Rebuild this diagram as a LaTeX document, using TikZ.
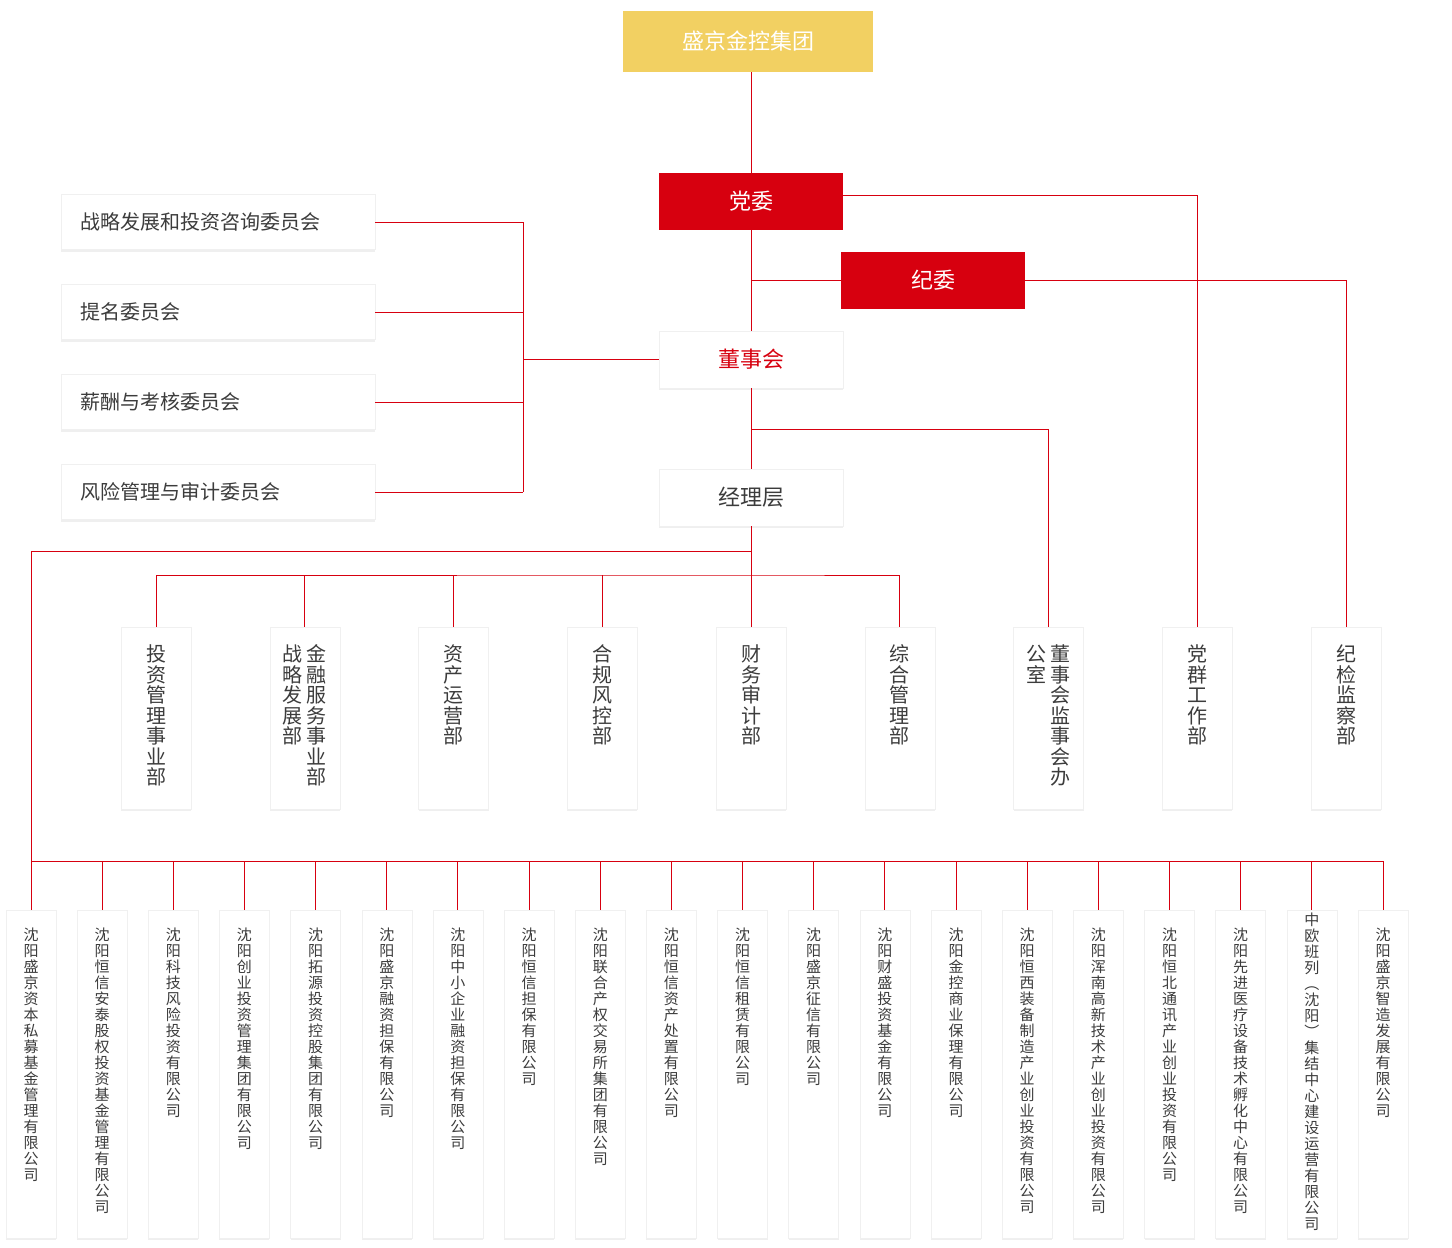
\documentclass[tikz,border=0pt]{standalone}
\usepackage{fontspec}
\setmainfont{Noto Sans CJK SC}
\usetikzlibrary{shadows}
\definecolor{jkred}{HTML}{D7000F}
\definecolor{jkgold}{HTML}{F2D062}
\definecolor{jkgray}{HTML}{3C3C3C}
% вертикальный столбец иероглифов
\newcommand\vchars[1]{\vtop{\lineskiplimit=-1000pt\expandafter\vcharsA#1\relax}}
\def\vcharsA#1#2{\hbox to 1em{\hss#1\hss}\ifx\relax#2\else\vcharsB\fi#2}
\def\vcharsB\fi#1{\fi\vcharsA#1}
\begin{document}
\begin{tikzpicture}[x=1pt,y=-1pt,
    link/.style={jkred,line width=1pt},
    box/.style={fill=white,draw=black!6,line width=.5pt,drop shadow={shadow xshift=0pt,shadow yshift=-2pt,opacity=.12}},
    head/.style={minimum width=184pt,minimum height=57pt,inner sep=0pt,font=\fontsize{22}{22}\selectfont},
    committee/.style={box,minimum width=314pt,minimum height=55pt,text width=276pt,inner xsep=19pt,align=left,text=jkgray,font=\fontsize{20}{20}\selectfont},
    dept/.style={box,minimum width=70pt,minimum height=182pt,inner sep=0pt},
    firm/.style={box,minimum width=50pt,minimum height=328pt,inner sep=0pt},
    vlabel/.style={anchor=north,inner sep=0pt,text=jkgray}]
    \fill[white] (0,0) rectangle (1452,1248); % фон
    \useasboundingbox (0,0) rectangle (1452,1248);
    % верхние блоки
    \node[head,minimum width=250pt,minimum height=61pt,fill=jkgold,text=white] (group) at (748,41.5) {盛京金控集团};
    \node[head,fill=jkred,text=white] (party) at (751,201.5) {党委};
    \node[head,fill=jkred,text=white] (discipline) at (933,280.5) {纪委};
    \node[head,box,text=jkred] (board) at (751,359.5) {董事会};
    \node[head,box,text=jkgray] (mgmt) at (751,497.5) {经理层};
    \draw[link] (group.south -| party.north) -- (party.north);
    \draw[link] (party.south) -- (board.north);
    \draw[link] (board.south) -- (mgmt.north);
    \draw[link] (discipline.west -| party.south) -- (discipline.west);
    % комитеты слева
    \foreach \i/\y/\name in {1/222/战略发展和投资咨询委员会,2/312/提名委员会,3/402/薪酬与考核委员会,4/492/风险管理与审计委员会}
        \node[committee] (c\i) at (218,\y) {\name};
    \coordinate (cjoin) at (523,359.5);
    \foreach \i in {1,...,4}
        \draw[link] (c\i.east) -- (c\i.east -| cjoin);
    \draw[link] (c1.east -| cjoin) -- (c4.east -| cjoin);
    \draw[link] (cjoin) -- (board.west);
    % отделы
    \foreach \i/\txt in {1/{\vchars{投资管理事业部}},2/{\vchars{战略发展部}\hspace{4pt}\vchars{金融服务事业部}},3/{\vchars{资产运营部}},4/{\vchars{合规风控部}},5/{\vchars{财务审计部}},6/{\vchars{综合管理部}},7/{\vchars{公室}\hspace{4pt}\vchars{董事会监事会办}},8/{\vchars{党群工作部}},9/{\vchars{纪检监察部}}}{
        \node[dept] (d\i) at ({156+148.75*(\i-1)},718) {};
        \node[vlabel,font=\fontsize{20}{20.5}\selectfont] (t\i) at ([yshift=-18pt]d\i.north) {\txt};
    }
    \coordinate (fork) at (751,575);
    \draw[link] (mgmt.south) -- (d5.north);
    \draw[link] (d1.north) |- (fork) -| (d6.north);
    \foreach \i in {2,3,4}
        \draw[link] (d\i.north) -- (d\i.north |- fork);
    \coordinate (bjoin) at (751,429);
    \draw[link] (bjoin) -| (d7.north);
    \draw[link] ([yshift=6.5pt]party.east) -| (d8.north);
    \draw[link] (discipline.east) -| (d9.north);
    % дочерние компании
    \foreach \i/\txt/\off in {1/沈阳盛京资本私募基金管理有限公司/18pt,2/沈阳恒信安泰股权投资基金管理有限公司/18pt,3/沈阳科技风险投资有限公司/18pt,4/沈阳创业投资管理集团有限公司/18pt,5/沈阳拓源投资控股集团有限公司/18pt,6/沈阳盛京融资担保有限公司/18pt,7/沈阳中小企业融资担保有限公司/18pt,8/沈阳恒信担保有限公司/18pt,9/沈阳联合产权交易所集团有限公司/18pt,10/沈阳恒信资产处置有限公司/18pt,11/沈阳恒信租赁有限公司/18pt,12/沈阳盛京征信有限公司/18pt,13/沈阳财盛投资基金有限公司/18pt,14/沈阳金控商业保理有限公司/18pt,15/沈阳恒西装备制造产业创业投资有限公司/18pt,16/沈阳浑南高新技术产业创业投资有限公司/18pt,17/沈阳恒北通讯产业创业投资有限公司/18pt,18/沈阳先进医疗设备技术孵化中心有限公司/18pt,19/中欧班列︵沈阳︶集结中心建设运营有限公司/3pt,20/沈阳盛京智造发展有限公司/18pt}{
        \node[firm] (f\i) at ({31+71.158*(\i-1)},1074) {};
        \node[vlabel,font=\fontsize{15}{16}\selectfont] (g\i) at ([yshift=-\off]f\i.north) {\vchars{\txt}};
    }
    \coordinate (spine) at (751,551);
    \coordinate (bar) at (0,861);
    \draw[link] (spine) -| (f1.north);
    \draw[link] (f1.north |- bar) -- (f20.north |- bar);
    \foreach \i in {2,...,20}
        \draw[link] (f\i.north) -- (f\i.north |- bar);
\end{tikzpicture}
\end{document}
